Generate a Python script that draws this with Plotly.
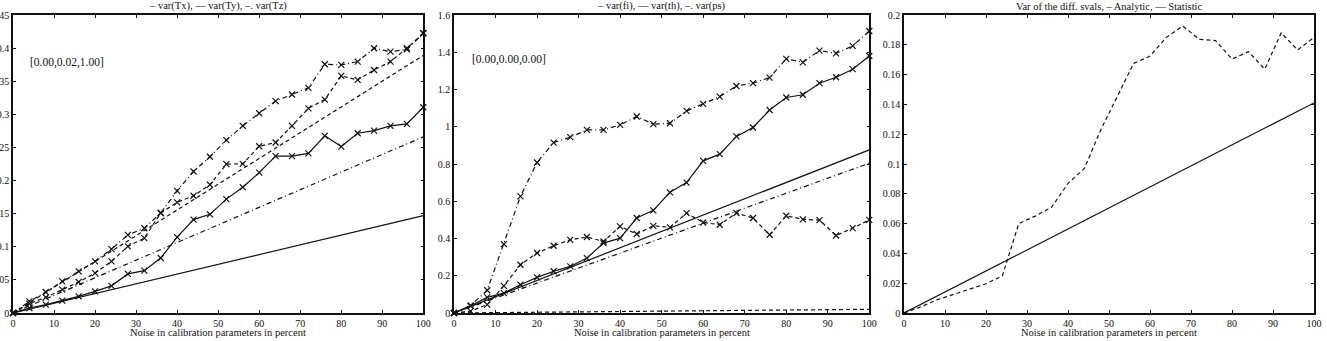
import plotly.graph_objects as go

# ---------------- data ----------------
x_stat = [0, 4, 8, 12, 16, 20, 24, 28, 32, 36, 40, 44, 48, 52, 56, 60, 64, 68, 72, 76, 80, 84, 88, 92, 96, 100]
x_lin = [0, 100]

# Panel 1: translation variances
tx_analytic = [0.0, 0.147]
ty_analytic = [0.0, 0.389]
tz_analytic = [0.0, 0.266]
tx_stat = [0, 0.0075, 0.0126, 0.0186, 0.025, 0.0327, 0.041, 0.059, 0.064, 0.083, 0.1146, 0.141, 0.149,
           0.172, 0.190, 0.212, 0.237, 0.237, 0.241, 0.2675, 0.2513, 0.2715, 0.2755, 0.2826, 0.2856, 0.3107]
ty_stat = [0, 0.014, 0.0236, 0.0352, 0.0468, 0.0603, 0.078, 0.1006, 0.113, 0.151, 0.167, 0.177, 0.1936,
           0.2247, 0.2253, 0.2518, 0.2574, 0.2826, 0.309, 0.3223, 0.358, 0.352, 0.367, 0.3796, 0.3998, 0.4224]
tz_stat = [0, 0.0176, 0.0317, 0.0478, 0.0628, 0.078, 0.0965, 0.118, 0.128, 0.151, 0.1845, 0.2137, 0.236,
           0.261, 0.2826, 0.3017, 0.320, 0.330, 0.340, 0.3756, 0.3746, 0.3796, 0.3998, 0.3946, 0.398, 0.4224]

# Panel 2: angle variances
fi_analytic = [0.0, 0.876]
th_analytic = [0.0, 0.02]
ps_analytic = [0.0, 0.804]
fi_stat = [0, 0.039, 0.084, 0.107, 0.152, 0.191, 0.224, 0.25, 0.295, 0.375, 0.402, 0.51, 0.551,
           0.648, 0.70, 0.817, 0.853, 0.948, 0.996, 1.09, 1.157, 1.172, 1.234, 1.266, 1.309, 1.38]
th_stat = [0, 0.01, 0.045, 0.146, 0.259, 0.322, 0.361, 0.393, 0.408, 0.384, 0.465, 0.424, 0.468,
           0.46, 0.536, 0.486, 0.474, 0.537, 0.51, 0.42, 0.522, 0.503, 0.499, 0.416, 0.456, 0.50]
ps_stat = [0, 0.04, 0.122, 0.370, 0.626, 0.808, 0.915, 0.944, 0.983, 0.983, 1.01, 1.055, 1.014,
           1.019, 1.085, 1.123, 1.162, 1.219, 1.234, 1.264, 1.364, 1.346, 1.409, 1.394, 1.434, 1.514]

# Panel 3: singular values variance
sv_analytic = [0.0, 0.141]
sv_stat = [0, 0.004, 0.0088, 0.0125, 0.016, 0.0196, 0.025, 0.060, 0.065, 0.071, 0.087, 0.097, 0.123,
           0.145, 0.1675, 0.1724, 0.185, 0.1926, 0.1837, 0.1828, 0.1704, 0.1754, 0.1637, 0.1881, 0.1765, 0.185]

titles = ["– var(Tx), — var(Ty), –. var(Tz)",
          "– var(fi), — var(th), –. var(ps)",
          "Var of the diff. svals, – Analytic, — Statistic"]
inset_labels = ["[0.00,0.02,1.00]", "[0.00,0.00,0.00]"]
xlabel = "Noise in calibration parameters in percent"
x_ticks = [0, 10, 20, 30, 40, 50, 60, 70, 80, 90, 100]
y_ticks1 = [0, 0.05, 0.1, 0.15, 0.2, 0.25, 0.3, 0.35, 0.4, 0.45]
y_tick_text1 = ["0", "0.05", "0.1", "0.15", "0.2", "0.25", "0.3", "0.35", "0.4", "0.45"]
y_ticks2 = [0, 0.2, 0.4, 0.6, 0.8, 1.0, 1.2, 1.4, 1.6]
y_tick_text2 = ["0", "0.2", "0.4", "0.6", "0.8", "1", "1.2", "1.4", "1.6"]
y_ticks3 = [0, 0.02, 0.04, 0.06, 0.08, 0.1, 0.12, 0.14, 0.16, 0.18, 0.2]
y_tick_text3 = ["0", "0.02", "0.04", "0.06", "0.08", "0.1", "0.12", "0.14", "0.16", "0.18", "0.2"]

# ---------------- figure ----------------
FONT = "Liberation Serif"
INK = "#111111"
DASH = "4px,3px"
DASHDOT = "5px,3px,1px,3px"
TICK_SIZE = 10
TEXT_SIZE = 10.5
INSET_SIZE = 11.5

fig = go.Figure()


def line(x, y, ax, dash="solid", marker=False):
    fig.add_trace(go.Scatter(
        x=x, y=y, xaxis="x" + ax, yaxis="y" + ax,
        mode="lines+markers" if marker else "lines",
        line=dict(color=INK, width=1.2, dash=dash),
        marker=dict(symbol="x-thin", size=6, line=dict(color=INK, width=1.2)),
        showlegend=False, hoverinfo="skip", cliponaxis=False,
    ))


# panel 1
line(x_lin, tx_analytic, "")
line(x_lin, ty_analytic, "", DASH)
line(x_lin, tz_analytic, "", DASHDOT)
line(x_stat, tx_stat, "", "solid", True)
line(x_stat, ty_stat, "", DASH, True)
line(x_stat, tz_stat, "", DASHDOT, True)
# panel 2
line(x_lin, fi_analytic, "2")
line(x_lin, th_analytic, "2", DASH)
line(x_lin, ps_analytic, "2", DASHDOT)
line(x_stat, fi_stat, "2", "solid", True)
line(x_stat, th_stat, "2", DASH, True)
line(x_stat, ps_stat, "2", DASHDOT, True)
# panel 3
line(x_lin, sv_analytic, "3")
line(x_stat, sv_stat, "3", DASH)

W, H = 1327, 341
ML, MR, MT, MB = 13, 13, 15, 28
PW = W - ML - MR
domains = [[0, 410.3 / PW], [441 / PW, 856.3 / PW], [891 / PW, 1.0]]


def xaxis(dom, anchor):
    return dict(domain=dom, anchor=anchor, range=[0, 100], tickvals=x_ticks,
                ticks="inside", ticklen=3, tickcolor=INK, showline=True, linecolor=INK,
                linewidth=1.5, mirror="ticks", showgrid=False, zeroline=False, automargin=False,
                tickfont=dict(family=FONT, size=TICK_SIZE, color=INK))


def yaxis(anchor, rng, vals, text):
    return dict(anchor=anchor, domain=[0, 1], range=rng, tickvals=vals, ticktext=text,
                ticks="inside", ticklen=3, tickcolor=INK, showline=True, linecolor=INK,
                linewidth=1.5, mirror="ticks", showgrid=False, zeroline=False, automargin=False,
                tickfont=dict(family=FONT, size=TICK_SIZE, color=INK))


annotations = []
for i, dom in enumerate(domains):
    cx = (dom[0] + dom[1]) / 2
    annotations.append(dict(text=titles[i], x=cx, y=1, xref="paper", yref="paper",
                            xanchor="center", yanchor="middle", yshift=9, showarrow=False,
                            font=dict(family=FONT, size=TEXT_SIZE, color=INK)))
    annotations.append(dict(text=xlabel, x=cx, y=0, xref="paper", yref="paper",
                            xanchor="center", yanchor="middle", yshift=-19, showarrow=False,
                            font=dict(family=FONT, size=TEXT_SIZE, color=INK)))

annotations.append(dict(text=inset_labels[0], x=3.6, y=0.379, xref="x", yref="y",
                        xanchor="left", yanchor="middle", showarrow=False,
                        font=dict(family=FONT, size=INSET_SIZE, color=INK)))
annotations.append(dict(text=inset_labels[1], x=3.9, y=1.359, xref="x2", yref="y2",
                        xanchor="left", yanchor="middle", showarrow=False,
                        font=dict(family=FONT, size=INSET_SIZE, color=INK)))

fig.update_layout(
    width=W, height=H,
    margin=dict(l=ML, r=MR, t=MT, b=MB, pad=0, autoexpand=False),
    paper_bgcolor="white", plot_bgcolor="white",
    font=dict(family=FONT, size=TICK_SIZE, color=INK),
    xaxis=xaxis(domains[0], "y"),
    yaxis=yaxis("x", [0, 0.45], y_ticks1, y_tick_text1),
    xaxis2=xaxis(domains[1], "y2"),
    yaxis2=yaxis("x2", [0, 1.6], y_ticks2, y_tick_text2),
    xaxis3=xaxis(domains[2], "y3"),
    yaxis3=yaxis("x3", [0, 0.2], y_ticks3, y_tick_text3),
    annotations=annotations,
    showlegend=False,
)

fig.write_html("out.html")
